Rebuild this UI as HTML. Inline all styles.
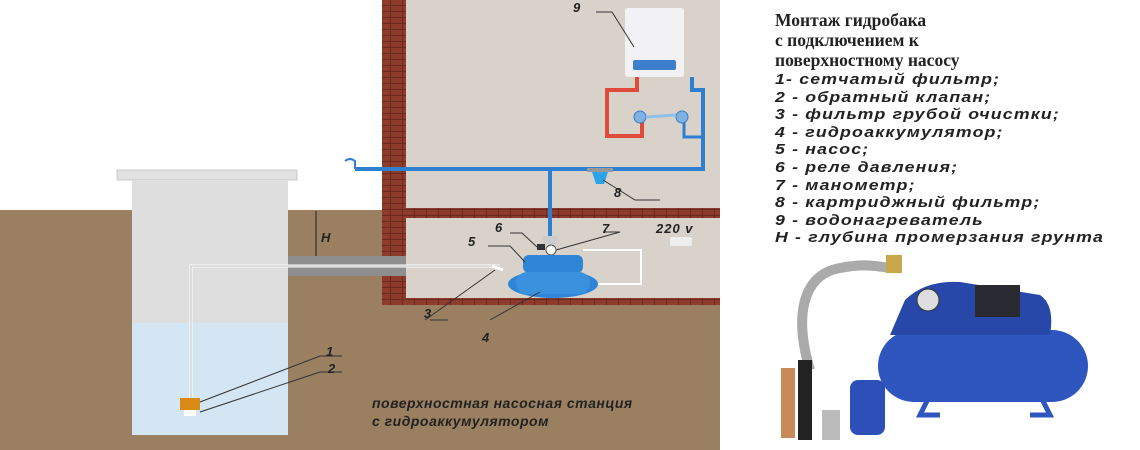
<!DOCTYPE html>
<html><head><meta charset="utf-8"><style>
body{margin:0;width:1140px;height:450px;overflow:hidden;background:#fff;position:relative;font-family:"Liberation Sans","DejaVu Sans",sans-serif}
.t{position:absolute;left:775px;font-family:"Liberation Serif","DejaVu Serif",serif;font-weight:bold;font-size:17.5px;color:#222;line-height:20px}
.l{position:absolute;left:775px;font-style:italic;font-weight:bold;font-size:15px;color:#222;line-height:17.6px;letter-spacing:1px;white-space:nowrap;transform:scaleX(1.18);transform-origin:0 0}
</style></head><body>
<svg width="1140" height="450" style="position:absolute;left:0;top:0">
<defs><pattern id="br" width="12" height="6" patternUnits="userSpaceOnUse"><rect width="12" height="6" fill="#8e3b2c"/><rect y="5" width="12" height="1" fill="#6b2a20"/><rect x="6" width="1" height="5" fill="#6b2a20"/></pattern></defs>
<rect x="0" y="210" width="720" height="240" fill="#9a7f61"/>
<rect x="406" y="0" width="314" height="208" fill="#d8d2cb"/>
<rect x="406" y="218" width="314" height="80" fill="#d8d2cb"/>
<rect x="382" y="0" width="24" height="305" fill="url(#br)"/>
<rect x="382" y="208" width="338" height="10" fill="url(#br)"/>
<rect x="382" y="298" width="338" height="7" fill="url(#br)"/>
<rect x="117" y="170" width="180" height="10" fill="#e2e2e2" stroke="#c8c8c8"/>
<rect x="132" y="180" width="156" height="143" fill="#dedede"/>
<rect x="132" y="323" width="156" height="112" fill="#d4e5f3"/>
<rect x="288" y="256" width="118" height="20" fill="#8e8e8e"/>
<path d="M191 400 V266 H500" fill="none" stroke="#fff" stroke-width="3"/>
<path d="M191 400 V266 H500" fill="none" stroke="#bbb" stroke-width="1"/>
<rect x="180" y="398" width="20" height="12" fill="#d88a14"/>
<rect x="184" y="410" width="12" height="6" fill="#fff"/>
<path d="M316 211 V256" stroke="#222" stroke-width="1"/>
<text x="321" y="242" font-size="13" font-weight="bold" font-style="italic" fill="#222">H</text>
<path d="M355 169 H703 V90 H692 V77" fill="none" stroke="#2f7fd0" stroke-width="4"/>
<path d="M550 169 V236" stroke="#2f7fd0" stroke-width="4"/>
<path d="M684 117 V137 H703" fill="none" stroke="#2f7fd0" stroke-width="3"/>
<path d="M637 77 V90 H607 V136 H642 V118" fill="none" stroke="#e04a3a" stroke-width="4"/>
<circle cx="640" cy="117" r="6" fill="#7fb2e0" stroke="#3a7cc4"/>
<circle cx="682" cy="117" r="6" fill="#7fb2e0" stroke="#3a7cc4"/>
<path d="M646 117 L676 115" stroke="#8fc0e8" stroke-width="3"/>
<path d="M345 161 q5 -4 10 0 v8" fill="none" stroke="#2f7fd0" stroke-width="2"/>
<rect x="625" y="8" width="59" height="69" rx="3" fill="#f2f2f4"/>
<rect x="633" y="60" width="43" height="10" rx="2" fill="#3d7fcd"/>
<rect x="587" y="168" width="26" height="4" fill="#999"/>
<path d="M592 172 H608 L604 184 H596 Z" fill="#2aa3e8"/>
<path d="M603 180 L635 200 H660" fill="none" stroke="#333"/>
<path d="M596 12 H612 L634 47" fill="none" stroke="#333"/>
<rect x="543" y="236" width="14" height="8" fill="#ccc"/>
<rect x="537" y="244" width="8" height="6" fill="#333"/>
<circle cx="551" cy="250" r="5" fill="#fff" stroke="#555"/>
<rect x="523" y="255" width="60" height="18" rx="6" fill="#2f86d6"/>
<ellipse cx="553" cy="284" rx="45" ry="14" fill="#2f86d6"/>
<rect x="516" y="272" width="74" height="22" rx="11" fill="#3a92de"/>
<path d="M583 250 H641 V284 H598" fill="none" stroke="#fff" stroke-width="2"/>
<rect x="670" y="237" width="22" height="9" rx="2" fill="#eee"/>
<path d="M492 266 L503 270" stroke="#fff" stroke-width="3"/>
<path d="M488 246 H510 L525 262" fill="none" stroke="#333"/>
<path d="M510 233 H522 L537 247" fill="none" stroke="#333"/>
<path d="M603 232 H620 L556 250" fill="none" stroke="#333"/>
<path d="M425 320 L495 270" stroke="#333"/>
<path d="M430 320 H448" stroke="#333"/>
<path d="M490 320 L540 292" stroke="#333"/>
<path d="M200 402 L320 356 H342 M200 412 L320 372 H342" fill="none" stroke="#333"/>
<g font-size="13" font-weight="bold" font-style="italic" fill="#222">
<text x="573" y="12">9</text><text x="614" y="197">8</text>
<text x="468" y="246">5</text><text x="495" y="232">6</text><text x="602" y="233">7</text>
<text x="656" y="233" letter-spacing="1">220 v</text>
<text x="424" y="318">3</text><text x="482" y="342">4</text>
<text x="326" y="356">1</text><text x="328" y="373">2</text>
<text x="372" y="408" font-size="14" letter-spacing="0.5">поверхностная насосная станция</text>
<text x="372" y="426" font-size="14" letter-spacing="0.5">с гидроаккумулятором</text>
</g>
<g>
<path d="M810 370 C795 320 800 275 840 268 C870 262 880 268 895 268" fill="none" stroke="#aaa" stroke-width="10"/>
<rect x="886" y="255" width="16" height="18" fill="#c9a64a"/>
<rect x="878" y="330" width="210" height="72" rx="36" fill="#2f55be"/>
<path d="M890 335 L905 300 Q925 280 960 282 L1040 295 Q1055 305 1050 335 Z" fill="#2748a8"/>
<rect x="975" y="285" width="45" height="32" fill="#2a2a33"/>
<circle cx="928" cy="300" r="11" fill="#ddd" stroke="#333"/>
<rect x="850" y="380" width="35" height="55" rx="8" fill="#2c50b8"/>
<rect x="798" y="360" width="14" height="80" fill="#222"/>
<rect x="781" y="368" width="14" height="70" fill="#c98a5a"/>
<rect x="822" y="410" width="18" height="30" fill="#bbb"/>
<path d="M930 395 L920 415 H940 M1040 395 L1050 415 H1030" stroke="#2f55be" stroke-width="5" fill="none"/>
</g>
</svg>
<div class="t" style="top:10px">Монтаж гидробака<br>с подключением к<br>поверхностному насосу</div>
<div class="l" style="top:71px">1- сетчатый фильтр;<br>2 - обратный клапан;<br>3 - фильтр грубой очистки;<br>4 - гидроаккумулятор;<br>5 - насос;<br>6 - реле давления;<br>7 - манометр;<br>8 - картриджный фильтр;<br>9 - водонагреватель<br>H - глубина промерзания грунта</div>
</body></html>
